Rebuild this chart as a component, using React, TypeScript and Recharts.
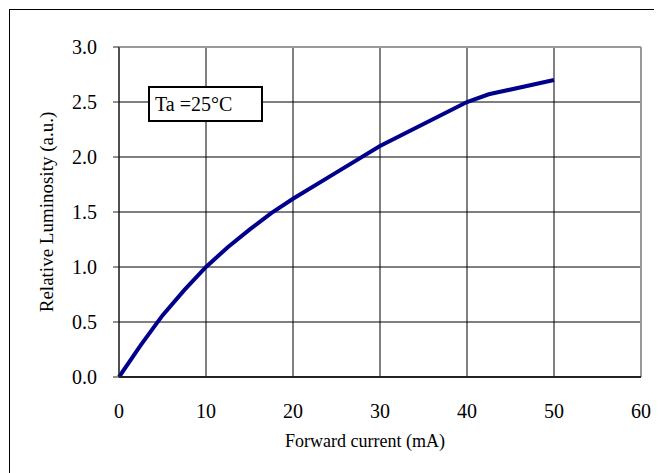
import React from 'react';
import { LineChart, Line, XAxis, YAxis, CartesianGrid, ReferenceLine, Label } from 'recharts';

const currents = [0, 2.5, 5, 7.5, 10, 12.5, 15, 17.5, 20, 25, 30, 35, 40, 42.5, 50];
const luminosity = [0, 0.29, 0.56, 0.79, 1.0, 1.18, 1.34, 1.49, 1.62, 1.86, 2.1, 2.3, 2.5, 2.57, 2.7];
const xTicks = [0, 10, 20, 30, 40, 50, 60];
const yTicks = [0, 0.5, 1.0, 1.5, 2.0, 2.5, 3.0];

const data = currents.map((c, i) => ({ current: c, lum: luminosity[i] }));

const FONT = "'Liberation Serif', 'Times New Roman', serif";

export default function App() {
  return (
    <div
      style={{
        position: 'relative',
        width: 660,
        height: 470,
        marginTop: 1,
        marginLeft: 1,
        borderTop: '1px solid #000',
        borderLeft: '1px solid #000',
        fontFamily: FONT,
        overflow: 'hidden',
      }}
    >
      <LineChart
        width={653}
        height={464}
        data={data}
        margin={{ top: 37, right: 22, left: 9, bottom: 17 }}
      >
        <CartesianGrid stroke="#000" strokeWidth={1} />
        <XAxis
          dataKey="current"
          type="number"
          domain={[0, 60]}
          ticks={xTicks}
          tickLine={false}
          tickMargin={21}
          height={80}
          stroke="#222"
          strokeWidth={2}
          tick={{ fill: '#000', fontSize: 20, fontFamily: FONT }}
        >
          <Label
            value="Forward current (mA)"
            position="insideBottom"
            offset={10}
            dx={-15}
            style={{ fill: '#000', fontSize: 18, fontFamily: FONT }}
          />
        </XAxis>
        <YAxis
          type="number"
          domain={[0, 3]}
          ticks={yTicks}
          tickFormatter={(v: number) => v.toFixed(1)}
          tickSize={6}
          tickMargin={16}
          width={100}
          stroke="#222"
          strokeWidth={1}
          tick={{ fill: '#000', fontSize: 20, fontFamily: FONT }}
        >
          <Label
            value="Relative Luminosity (a.u.)"
            angle={-90}
            position="center"
            dx={-23}
            style={{ fill: '#000', fontSize: 19, fontFamily: FONT, textAnchor: 'middle' }}
          />
        </YAxis>
        <ReferenceLine y={3} stroke="#999" strokeWidth={2} />
        <ReferenceLine x={60} stroke="#999" strokeWidth={2} />
        <Line
          type="linear"
          dataKey="lum"
          stroke="#00008b"
          strokeWidth={4}
          dot={false}
          isAnimationActive={false}
        />
      </LineChart>
      <div
        style={{
          position: 'absolute',
          left: 138,
          top: 76,
          width: 106,
          height: 32,
          border: '2px solid #000',
          background: '#fff',
          fontSize: 20,
          lineHeight: '32px',
          paddingLeft: 5,
          boxSizing: 'content-box',
          color: '#000',
        }}
      >
        Ta =25°C
      </div>
    </div>
  );
}
